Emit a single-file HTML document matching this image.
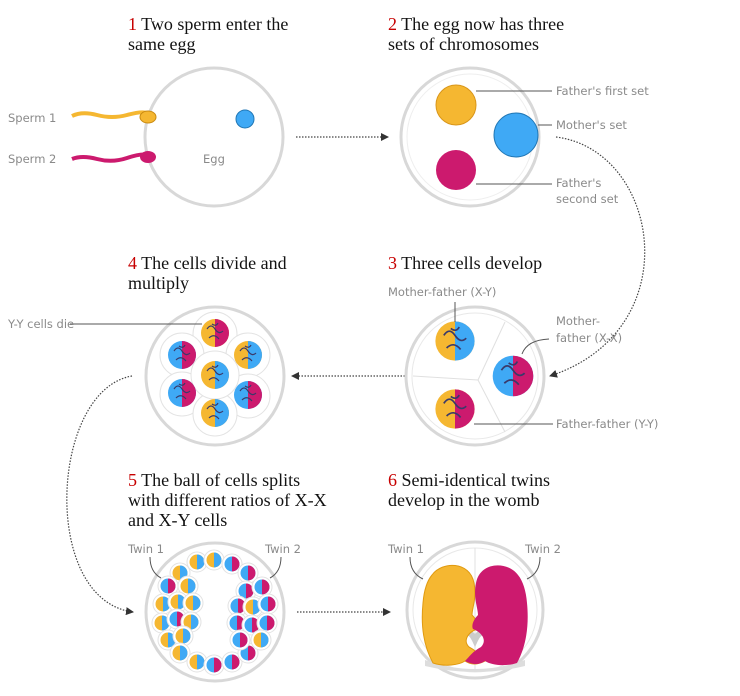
<!DOCTYPE html>
<html><head><meta charset="utf-8"><style>
html,body{margin:0;padding:0;background:#fff}
svg{display:block}
.t{font-family:"Liberation Serif",serif;font-size:18px;fill:#121212}
.n{fill:#c70000}
.l{font-family:"DejaVu Sans","Liberation Sans",sans-serif;font-size:11.5px;fill:#8a8a8a}
</style></head><body>
<svg width="740" height="696" viewBox="0 0 740 696" xmlns="http://www.w3.org/2000/svg">
<defs>
<g id="ob"><circle r="10" fill="#fff" stroke="#e2e2e2"/><circle r="7.5" fill="#f5b731"/><path d="M0,-7.5A7.5,7.5 0 0 1 0,7.5Z" fill="#3fa9f5"/></g>
<g id="bm"><circle r="10" fill="#fff" stroke="#e2e2e2"/><circle r="7.5" fill="#3fa9f5"/><path d="M0,-7.5A7.5,7.5 0 0 1 0,7.5Z" fill="#cc1a6e"/></g>
<g id="BOB"><circle r="14" fill="#f5b731"/><path d="M0,-14A14,14 0 0 1 0,14Z" fill="#3fa9f5"/><path d="M-8,-4q4,-6 8,0t8,2M-6,5q5,-5 10,1M-3,-9q4,3 6,-1" stroke="#3a3a6a" fill="none" stroke-width="1.2"/></g>
<g id="BBM"><circle r="14" fill="#3fa9f5"/><path d="M0,-14A14,14 0 0 1 0,14Z" fill="#cc1a6e"/><path d="M-8,-4q4,-6 8,0t8,2M-6,5q5,-5 10,1M-3,-9q4,3 6,-1" stroke="#3a3a6a" fill="none" stroke-width="1.2"/></g>
<g id="BOM"><circle r="14" fill="#f5b731"/><path d="M0,-14A14,14 0 0 1 0,14Z" fill="#cc1a6e"/><path d="M-8,-4q4,-6 8,0t8,2M-6,5q5,-5 10,1M-3,-9q4,3 6,-1" stroke="#3a3a6a" fill="none" stroke-width="1.2"/></g>
<marker id="ar" markerWidth="8" markerHeight="8" refX="7" refY="4" orient="auto" markerUnits="userSpaceOnUse"><path d="M0,0L8,4L0,8Z" fill="#333"/></marker>
</defs>

<text class="t" x="128" y="30"><tspan class="n">1</tspan> Two sperm enter the</text>
<text class="t" x="128" y="50">same egg</text>
<text class="t" x="388" y="30"><tspan class="n">2</tspan> The egg now has three</text>
<text class="t" x="388" y="50">sets of chromosomes</text>
<text class="t" x="128" y="269"><tspan class="n">4</tspan> The cells divide and</text>
<text class="t" x="128" y="289">multiply</text>
<text class="t" x="388" y="269"><tspan class="n">3</tspan> Three cells develop</text>
<text class="t" x="128" y="486"><tspan class="n">5</tspan> The ball of cells splits</text>
<text class="t" x="128" y="506">with different ratios of X-X</text>
<text class="t" x="128" y="526">and X-Y cells</text>
<text class="t" x="388" y="486"><tspan class="n">6</tspan> Semi-identical twins</text>
<text class="t" x="388" y="506">develop in the womb</text>

<g stroke="#444" stroke-width="1.2" stroke-dasharray="1.5,1.5" fill="none">
<path d="M296,137H388" marker-end="url(#ar)"/>
<path d="M556,137C660,150 690,330 550,376" marker-end="url(#ar)"/>
<path d="M405,376H292" marker-end="url(#ar)"/>
<path d="M132,376C50,390 40,600 133,612" marker-end="url(#ar)"/>
<path d="M297,612H390" marker-end="url(#ar)"/>
</g>

<circle cx="214" cy="137" r="69" fill="#fff" stroke="#d8d8d8" stroke-width="3"/>
<circle cx="245" cy="119" r="9" fill="#3fa9f5" stroke="#2177b5"/>
<text class="l" x="203" y="163">Egg</text>
<text class="l" x="8" y="122">Sperm 1</text>
<text class="l" x="8" y="163">Sperm 2</text>
<path d="M72,116q10,-5 25,-1t30,0 t20,-2" stroke="#f5b731" stroke-width="4" fill="none"/>
<ellipse cx="148" cy="117" rx="8" ry="6" fill="#f5b731" stroke="#c98a10"/>
<path d="M72,159q10,-4 25,0t30,-1 t20,-3" stroke="#cc1a6e" stroke-width="4" fill="none"/>
<ellipse cx="148" cy="157" rx="8" ry="6" fill="#cc1a6e"/>

<circle cx="470" cy="137" r="69" fill="#fff" stroke="#d8d8d8" stroke-width="3"/>
<circle cx="470" cy="137" r="63" fill="none" stroke="#eee" stroke-width="1"/>
<circle cx="456" cy="105" r="20" fill="#f5b731" stroke="#d9961a"/>
<circle cx="516" cy="135" r="22" fill="#3fa9f5" stroke="#2177b5"/>
<circle cx="456" cy="170" r="20" fill="#cc1a6e"/>
<g stroke="#555" fill="none" stroke-width="1"><path d="M476,91H552"/><path d="M538,125H552"/><path d="M476,184H552"/></g>
<text class="l" x="556" y="95">Father's first set</text>
<text class="l" x="556" y="129">Mother's set</text>
<text class="l" x="556" y="187">Father's</text>
<text class="l" x="556" y="203">second set</text>

<circle cx="475" cy="376" r="69" fill="#fff" stroke="#d8d8d8" stroke-width="3"/>
<circle cx="475" cy="376" r="63" fill="none" stroke="#e8e8e8"/>
<g stroke="#e0e0e0" fill="none"><path d="M478,380L505,322M478,380L413,376M478,380L505,432"/></g>
<use href="#BOB" transform="translate(455,341) scale(1.4)"/>
<use href="#BBM" transform="translate(513,376) scale(1.45)"/>
<use href="#BOM" transform="translate(455,409) scale(1.4)"/>
<g stroke="#555" fill="none"><path d="M455,302V322"/><path d="M522,354q5,-14 27,-15"/><path d="M474,424H553"/></g>
<text class="l" x="388" y="296">Mother-father (X-Y)</text>
<text class="l" x="556" y="325">Mother-</text>
<text class="l" x="556" y="342">father (X-X)</text>
<text class="l" x="556" y="428">Father-father (Y-Y)</text>

<circle cx="215" cy="376" r="69" fill="#fff" stroke="#d8d8d8" stroke-width="3"/>
<g fill="#fff" stroke="#e3e3e3">
<circle cx="215" cy="334" r="22"/><circle cx="182" cy="355" r="22"/><circle cx="248" cy="355" r="22"/>
<circle cx="182" cy="394" r="22"/><circle cx="248" cy="396" r="22"/><circle cx="215" cy="414" r="22"/><circle cx="215" cy="375" r="24"/>
</g>
<use href="#BOM" transform="translate(215,333)"/>
<use href="#BBM" transform="translate(182,355)"/>
<use href="#BOB" transform="translate(248,355)"/>
<use href="#BOB" transform="translate(215,375)"/>
<use href="#BBM" transform="translate(182,393)"/>
<use href="#BBM" transform="translate(248,395)"/>
<use href="#BOB" transform="translate(215,413)"/>
<path d="M70,324H202" stroke="#555"/>
<text class="l" x="8" y="328">Y-Y cells die</text>

<circle cx="215" cy="612" r="69" fill="#fff" stroke="#d8d8d8" stroke-width="3"/>
<g>
<use href="#ob" transform="translate(197,562)"/><use href="#ob" transform="translate(214,560)"/><use href="#bm" transform="translate(232,564)"/><use href="#bm" transform="translate(248,573)"/>
<use href="#ob" transform="translate(180,573)"/><use href="#bm" transform="translate(168,586)"/><use href="#ob" transform="translate(188,586)"/>
<use href="#ob" transform="translate(163,604)"/><use href="#ob" transform="translate(178,602)"/><use href="#ob" transform="translate(193,603)"/>
<use href="#ob" transform="translate(162,623)"/><use href="#bm" transform="translate(177,619)"/><use href="#ob" transform="translate(191,622)"/>
<use href="#ob" transform="translate(168,640)"/><use href="#ob" transform="translate(183,636)"/><use href="#ob" transform="translate(180,653)"/>
<use href="#ob" transform="translate(197,662)"/><use href="#bm" transform="translate(214,665)"/><use href="#bm" transform="translate(232,662)"/><use href="#bm" transform="translate(248,653)"/>
<use href="#bm" transform="translate(246,591)"/><use href="#bm" transform="translate(262,587)"/><use href="#bm" transform="translate(238,606)"/><use href="#ob" transform="translate(253,607)"/><use href="#bm" transform="translate(268,604)"/>
<use href="#bm" transform="translate(237,623)"/><use href="#bm" transform="translate(252,625)"/><use href="#bm" transform="translate(267,623)"/>
<use href="#bm" transform="translate(240,640)"/><use href="#ob" transform="translate(261,640)"/>
</g>
<g stroke="#555" fill="none"><path d="M150,557q0,15 11,21"/><path d="M281,557q0,15 -11,21"/></g>
<text class="l" x="128" y="553">Twin 1</text>
<text class="l" x="265" y="553">Twin 2</text>

<circle cx="475" cy="610" r="68" fill="#fff" stroke="#d8d8d8" stroke-width="3"/>
<circle cx="475" cy="610" r="62" fill="none" stroke="#e8e8e8"/>
<path d="M475,548V672" stroke="#e0e0e0"/>
<path d="M425,660q50,18 100,0v6q-50,12 -100,0z" fill="#ddd"/>
<path d="M458,640q10,-15 17,0q7,-15 17,0" stroke="#ccc" stroke-width="6" fill="none"/>
<path d="M432,575c10,-14 38,-14 42,8c3,15 -2,25 -2,32c4,4 7,10 5,14c-10,4 -14,12 -8,18c8,4 12,10 16,14c-8,4 -14,4 -20,0c-6,4 -20,6 -32,2c-10,-18 -12,-40 -10,-60c1,-12 4,-22 9,-28z" fill="#f5b731" stroke="#e09a10"/>
<path d="M518,575c-10,-14 -38,-14 -42,8c-3,15 2,25 2,32c-4,4 -7,10 -5,14c10,4 14,12 8,18c-8,4 -12,10 -16,14c8,4 14,4 20,0c6,4 20,6 32,2c10,-18 12,-40 10,-60c-1,-12 -4,-22 -9,-28z" fill="#cc1a6e"/>
<g stroke="#555" fill="none"><path d="M410,557q0,16 13,22"/><path d="M540,557q0,16 -13,22"/></g>
<text class="l" x="388" y="553">Twin 1</text>
<text class="l" x="525" y="553">Twin 2</text>
</svg>
</body></html>
